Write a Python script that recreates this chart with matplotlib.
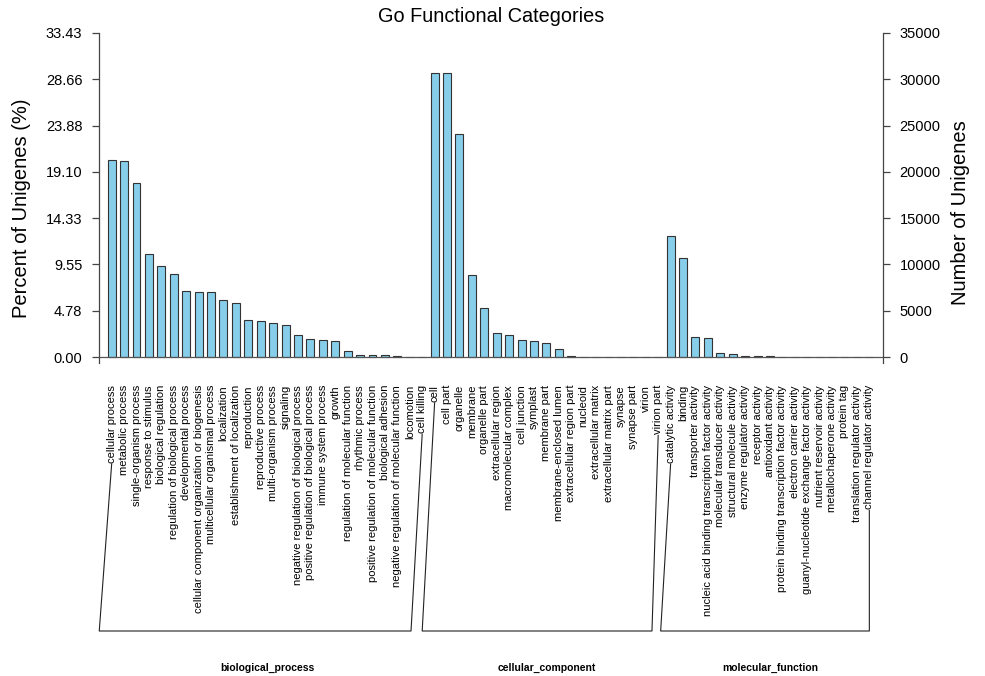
import matplotlib
matplotlib.use("Agg")
import matplotlib.pyplot as plt
from matplotlib.lines import Line2D
from matplotlib.transforms import blended_transform_factory

plt.rcParams['font.family'] = ['Liberation Sans', 'DejaVu Sans']

# GO terms per ontology
bp_terms = [
    "cellular process", "metabolic process", "single-organism process",
    "response to stimulus", "biological regulation",
    "regulation of biological process", "developmental process",
    "cellular component organization or biogenesis",
    "multicellular organismal process", "localization",
    "establishment of localization", "reproduction", "reproductive process",
    "multi-organism process", "signaling",
    "negative regulation of biological process",
    "positive regulation of biological process", "immune system process",
    "growth", "regulation of molecular function", "rhythmic process",
    "positive regulation of molecular function", "biological adhesion",
    "negative regulation of molecular function", "locomotion", "cell killing",
]
bp_counts = [21281, 21206, 18830, 11160, 9866, 8966, 7130, 7022, 7022, 6120,
             5797, 4032, 3852, 3673, 3457, 2377, 1944, 1836, 1728, 612,
             252, 252, 252, 80, 40, 12]

cc_terms = [
    "cell", "cell part", "organelle", "membrane", "organelle part",
    "extracellular region", "macromolecular complex", "cell junction",
    "symplast", "membrane part", "membrane-enclosed lumen",
    "extracellular region part", "nucleoid", "extracellular matrix",
    "extracellular matrix part", "synapse", "synapse part", "virion",
    "virion part",
]
cc_counts = [30712, 30712, 24090, 8858, 5257, 2628, 2377, 1836, 1728, 1476,
             864, 60, 20, 15, 5, 4, 3, 3, 2]

mf_terms = [
    "catalytic activity", "binding", "transporter activity",
    "nucleic acid binding transcription factor activity",
    "molecular transducer activity", "structural molecule activity",
    "enzyme regulator activity", "receptor activity", "antioxidant activity",
    "protein binding transcription factor activity",
    "electron carrier activity",
    "guanyl-nucleotide exchange factor activity",
    "nutrient reservoir activity", "metallochaperone activity",
    "protein tag", "translation regulator activity",
    "channel regulator activity",
]
mf_counts = [13071, 10694, 2160, 2052, 400, 292, 150, 150, 60, 40, 30, 20,
             12, 6, 4, 3, 2]

group_names = ["biological_process", "cellular_component", "molecular_function"]
total_unigenes = 104690
count_ticks = [0, 5000, 10000, 15000, 20000, 25000, 30000, 35000]

groups = [bp_terms, cc_terms, mf_terms]
terms = bp_terms + cc_terms + mf_terms
counts = bp_counts + cc_counts + mf_counts
xpos = list(range(len(terms)))

W, H = 985, 676
fig = plt.figure(figsize=(W / 100, H / 100), dpi=100)
ax = fig.add_axes([99 / W, 1 - 363 / H, 784 / W, (363 - 33) / H])

ymin = -648
ax.bar(xpos, counts, width=0.64, color="#87CEEB", edgecolor="#333333",
       linewidth=0.8, zorder=2)
ax.axhline(0, color="#555555", lw=0.9, zorder=3)
ax.set_xlim(-1.02, 62.1)
ax.set_ylim(ymin, 35000)
ax.set_xticks([])

ax2 = ax.twinx()
ax2.set_ylim(ymin, 35000)

for a in (ax, ax2):
    for s in ("top", "bottom"):
        a.spines[s].set_visible(False)
    a.spines["left"].set_bounds(ymin, 35000)
    a.spines["right"].set_bounds(ymin, 35000)
    for s in ("left", "right"):
        a.spines[s].set_color("#444444")
        a.spines[s].set_linewidth(0.9)
    a.set_xticks([])
ax.spines["right"].set_visible(False)
ax2.spines["left"].set_visible(False)

ax.set_yticks(count_ticks)
ax.set_yticklabels([f"{c / total_unigenes * 100:.2f}" for c in count_ticks])
ax2.set_yticks(count_ticks)
ax2.set_yticklabels([str(c) for c in count_ticks])
ax.tick_params(axis="y", direction="out", length=5, width=0.9,
               color="#444444", pad=7, labelsize=10.5)
ax2.tick_params(axis="y", direction="out", length=5, width=0.9,
                color="#444444", pad=7, labelsize=10.5)

fig.text(22 / W, 1 - 208 / H, "Percent of Unigenes (%)", rotation=90,
         ha="center", va="center", fontsize=14.5)
fig.text(961 / W, 1 - 213 / H, "Number of Unigenes", rotation=90,
         ha="center", va="center", fontsize=14.5)
fig.text(491 / W, 1 - 16 / H, "Go Functional Categories", ha="center",
         va="center", fontsize=14.3)

# category labels under the bars
lab_tr = blended_transform_factory(ax.transData, fig.transFigure)
labels = []
for x, t in zip(xpos, terms):
    labels.append(ax.text(x, 1 - 385 / H, t, rotation=90, ha="center",
                          va="top", fontsize=8, transform=lab_tr))

# ontology names centred under each group
start = 0
ranges = []
for g in groups:
    ranges.append((start, start + len(g) - 1))
    start += len(g)
for (a0, a1), name in zip(ranges, group_names):
    fig.text(0, 0, name, transform=lab_tr, fontsize=7.5, fontweight="bold",
             ha="center", va="center").set_position(((a0 + a1) / 2, 1 - 668 / H))

# brackets joining the first and last label of each group
fig.canvas.draw()
renderer = fig.canvas.get_renderer()
foot_offsets = [(-1.0, -0.9), (-1.0, -0.5), (-0.8, 0.0)]
foot_y = H - 631
for (a0, a1), (o0, o1) in zip(ranges, foot_offsets):
    b0 = labels[a0].get_window_extent(renderer)
    b1 = labels[a1].get_window_extent(renderer)
    pts = [
        (ax.transData.transform((a0, 0))[0], b0.y0 - 1),
        (ax.transData.transform((a0 + o0, 0))[0], foot_y),
        (ax.transData.transform((a1 + o1, 0))[0], foot_y),
        (ax.transData.transform((a1, 0))[0], b1.y0 - 1),
    ]
    xs = [p[0] / W for p in pts]
    ys = [p[1] / H for p in pts]
    fig.add_artist(Line2D(xs, ys, color="#222222", lw=0.8,
                          transform=fig.transFigure))

fig.savefig("out.png", dpi=100)
